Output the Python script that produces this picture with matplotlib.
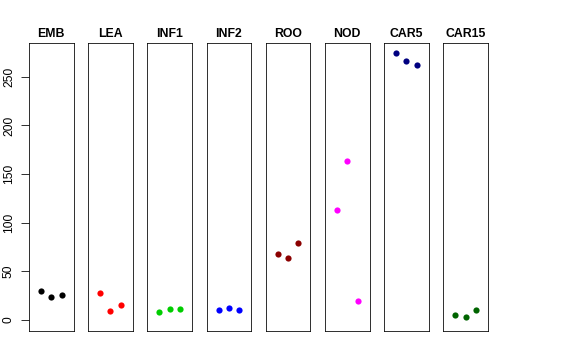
import matplotlib
matplotlib.use("Agg")
import matplotlib.pyplot as plt
import numpy as np

plt.rcParams['font.family'] = ['Liberation Sans', 'DejaVu Sans']

tissues = ["EMB", "LEA", "INF1", "INF2", "ROO", "NOD", "CAR5", "CAR15"]
colors = ["black", "red", "#00CD00", "blue", "#8B0000", "magenta", "#000080", "#006400"]
emb = [29.9, 24.0, 25.8]
lea = [27.5, 9.3, 15.5]
inf1 = [8.6, 11.4, 11.0]
inf2 = [10.3, 12.0, 10.6]
roo = [67.8, 63.3, 78.8]
nod = [112.8, 163.4, 19.3]
car5 = [274.0, 265.9, 262.1]
car15 = [5.2, 3.1, 10.3]
series = [emb, lea, inf1, inf2, roo, nod, car5, car15]
yticks = [0, 50, 100, 150, 200, 250]

allv = np.concatenate([np.array(s) for s in series])
lo, hi = 0.0, allv.max()
ext = 0.04 * (hi - lo)
ylim = (lo - ext, hi + ext)

fig = plt.figure(figsize=(8, 5), dpi=72)
left0 = 29 / 576
width = 44.5 / 576
step = 59.2 / 576
bottom = 1 - 330.7 / 360
height = (330.7 - 42.7) / 360

for i, (name, col, vals) in enumerate(zip(tissues, colors, series)):
    ax = fig.add_axes([left0 + i * step, bottom, width, height])
    x = np.arange(1, len(vals) + 1)
    ax.plot(x, vals, 'o', color=col, markersize=6.2, markeredgewidth=0)
    ax.set_xlim(-0.16, 4.16)
    ax.set_ylim(*ylim)
    ax.set_xticks([])
    for sp in ax.spines.values():
        sp.set_linewidth(0.8)
        sp.set_color('black')
    ax.set_title(name, fontsize=12.2, fontweight='bold', pad=6)
    if i == 0:
        ax.set_yticks(yticks)
        ax.set_yticklabels([str(t) for t in yticks], rotation=90, va='center', fontsize=12)
        ax.tick_params(axis='y', length=8, width=0.8, pad=6)
    else:
        ax.set_yticks([])

fig.savefig("out.png", dpi=72)
